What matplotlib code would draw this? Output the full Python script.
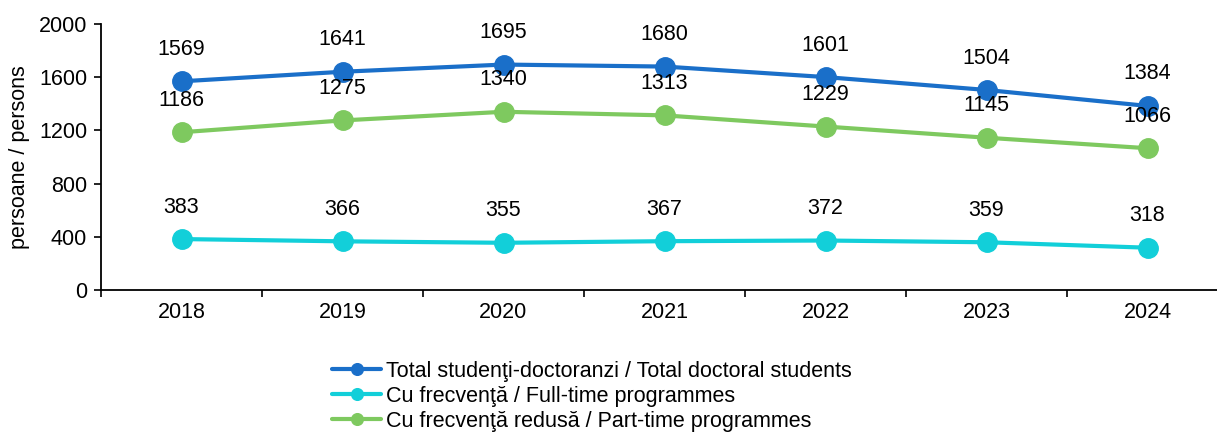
import matplotlib

matplotlib.use("Agg")
import matplotlib.pyplot as plt  # noqa: E402

years = ["2018", "2019", "2020", "2021", "2022", "2023", "2024"]
total = [1569, 1641, 1695, 1680, 1601, 1504, 1384]
full_time = [383, 366, 355, 367, 372, 359, 318]
part_time = [1186, 1275, 1340, 1313, 1229, 1145, 1066]

series = [
    ("Total studenţi-doctoranzi / Total doctoral students", total, "#1a6fc9"),
    ("Cu frecvenţă / Full-time programmes", full_time, "#12cfd9"),
    ("Cu frecvenţă redusă / Part-time programmes", part_time, "#7ec95f"),
]

plt.rcParams["font.family"] = ["Liberation Sans", "DejaVu Sans"]
plt.rcParams["font.size"] = 15.5

fig = plt.figure(figsize=(12.17, 4.34), dpi=100)
ax = fig.add_axes([101 / 1217, 144 / 434, 1127 / 1217, 266 / 434])

x = list(range(len(years)))
handles = []
for label, vals, color in series:
    (h,) = ax.plot(x, vals, color=color, lw=3, marker="o", markersize=14,
                   label=label, solid_capstyle="round")
    handles.append(h)
    for xi, v in zip(x, vals):
        ax.annotate(str(v), (xi, v), xytext=(0, 23), textcoords="offset points",
                    ha="center", va="center")

ax.set_xlim(-0.5, len(years) - 0.5)
ax.set_ylim(0, 2000)
ax.set_yticks(range(0, 2001, 400))
ax.set_xticks([i + 0.5 for i in range(-1, len(years))], minor=False)
ax.set_xticklabels([])
ax.set_xticks(x, minor=True)
ax.set_xticklabels(years, minor=True)
ax.tick_params(axis="x", which="major", length=5, width=1.2, direction="out")
ax.tick_params(axis="x", which="minor", length=0, pad=9)
ax.tick_params(axis="y", length=5, width=1.2, direction="out", pad=5)
for side in ("top", "right"):
    ax.spines[side].set_visible(False)
for side in ("left", "bottom"):
    ax.spines[side].set_linewidth(1.3)
ax.set_ylabel("persoane / persons", labelpad=6)

fig.legend(handles=handles, loc="upper left", bbox_to_anchor=(321 / 1217, 1 - 350 / 434),
           frameon=False, handlelength=2.3, handletextpad=0.2, labelspacing=0.18,
           borderpad=0, markerscale=0.6)

fig.savefig("out.png", dpi=100)
